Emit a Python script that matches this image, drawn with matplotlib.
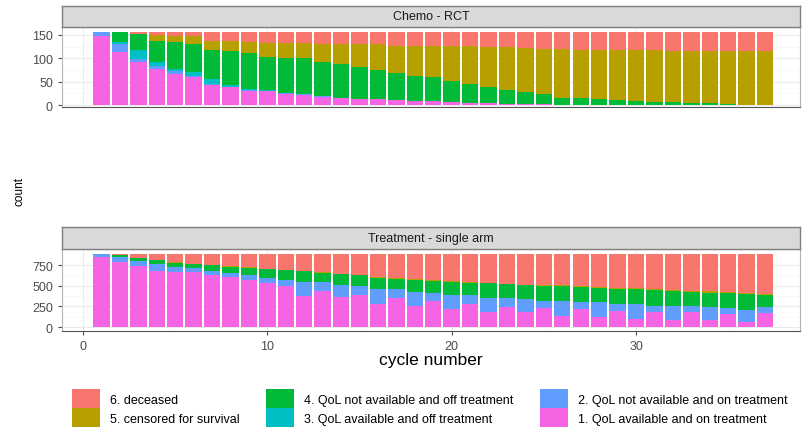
import matplotlib
matplotlib.use('Agg')
import matplotlib.pyplot as plt
import numpy as np

plt.rcParams['font.family'] = ['Liberation Sans', 'DejaVu Sans']

cycles = list(range(1, 38))

labels = ['1. QoL available and on treatment',
          '2. QoL not available and on treatment',
          '3. QoL available and off treatment',
          '4. QoL not available and off treatment',
          '5. censored for survival',
          '6. deceased']
colors = ['#F564E3', '#619CFF', '#00BFC4', '#00BA38', '#B79F00', '#F8766D']

# Chemo - RCT
rct_1 = [147, 113, 92, 78, 67, 59, 42, 38, 31, 30, 24, 22, 18, 16, 13, 13, 11, 9, 8, 6,
         5, 4, 2, 2, 2, 1, 0, 0, 0, 0, 0, 0, 0, 0, 0, 0, 0]
rct_2 = [9, 18, 6, 6, 5, 3, 2, 1, 1, 1, 1, 1, 1, 0, 0, 0, 0, 0, 0, 0,
         0, 0, 0, 0, 0, 0, 0, 0, 0, 0, 0, 0, 0, 0, 0, 0, 0]
rct_3 = [0, 3, 20, 8, 6, 8, 12, 3, 3, 1, 1, 0, 0, 0, 0, 0, 0, 0, 0, 0,
         0, 0, 0, 0, 0, 0, 0, 0, 0, 0, 0, 0, 0, 0, 0, 0, 0]
rct_4 = [0, 22, 33, 46, 57, 61, 62, 73, 76, 71, 75, 78, 73, 72, 68, 61, 57, 54, 51, 46,
         41, 34, 30, 25, 21, 15, 14, 12, 10, 9, 7, 6, 5, 4, 2, 1, 0]
rct_5 = [0, 0, 2, 11, 12, 16, 20, 23, 24, 29, 32, 31, 39, 43, 50, 56, 59, 64, 68, 75,
         81, 86, 92, 95, 97, 104, 104, 106, 108, 108, 110, 110, 111, 112, 113, 114, 115]
rct_6 = [0, 0, 3, 7, 9, 9, 18, 18, 21, 24, 23, 24, 25, 25, 25, 26, 29, 29, 29, 29,
         29, 32, 32, 34, 36, 36, 38, 38, 38, 39, 39, 40, 40, 40, 41, 41, 41]

# Treatment - single arm
single_1 = [842, 790, 741, 681, 669, 661, 629, 600, 572, 532, 492, 379, 439, 359, 387, 278,
            347, 258, 318, 218, 278, 177, 238, 177, 226, 137, 218, 117, 197, 97, 177, 89,
            177, 89, 157, 64, 170]
single_2 = [38, 62, 59, 80, 63, 47, 51, 59, 55, 55, 80, 160, 100, 148, 112, 180,
            112, 160, 92, 168, 108, 180, 108, 160, 92, 180, 88, 180, 80, 180, 80, 160,
            72, 148, 68, 144, 72]
single_3 = [0] * 37
single_4 = [0, 16, 38, 50, 48, 50, 67, 71, 91, 111, 118, 138, 118, 130, 126, 138,
            126, 150, 146, 158, 150, 170, 170, 166, 178, 178, 182, 178, 186, 178, 190, 186,
            174, 178, 182, 186, 150]
single_5 = [0, 0, 2, 2, 3, 3, 3, 4, 4, 4, 5, 5, 5, 6, 6, 7,
            7, 8, 8, 9, 9, 10, 10, 11, 11, 12, 12, 13, 13, 14, 14, 15,
            15, 16, 16, 17, 10]
single_6 = [0, 12, 40, 67, 97, 119, 130, 146, 158, 178, 185, 198, 218, 237, 249, 277,
            288, 304, 316, 327, 335, 343, 354, 366, 373, 373, 380, 392, 404, 411, 419, 430,
            442, 449, 457, 469, 478]

fig = plt.figure(figsize=(8.04, 4.31), dpi=100)

panels = [
    ('Chemo - RCT', [rct_1, rct_2, rct_3, rct_4, rct_5, rct_6],
     [0.0771, 0.7494, 0.918, 0.1856], [0.935, 0.0488], [0, 50, 100, 150], (-4.3, 167)),
    ('Treatment - single arm', [single_1, single_2, single_3, single_4, single_5, single_6],
     [0.0771, 0.2297, 0.918, 0.1903], [0.42, 0.051], [0, 250, 500, 750], (-48, 944)),
]

handles = []
for i, (title, series, rect, strip, yticks, ylim) in enumerate(panels):
    ax = fig.add_axes(rect)
    bottom = np.zeros(len(cycles))
    hs = []
    for vals, col, lab in zip(series, colors, labels):
        h = ax.bar(cycles, vals, bottom=bottom, width=0.89, color=col, label=lab, linewidth=0)
        bottom += np.array(vals)
        hs.append(h)
    if i == 0:
        handles = hs
    ax.set_xlim(-1.14, 38.9)
    ax.set_ylim(*ylim)
    ax.set_yticks(yticks)
    ax.set_xticks([0, 10, 20, 30])
    ax.set_xticks([5, 15, 25, 35], minor=True)
    ax.set_yticks([(a + b) / 2 for a, b in zip(yticks[:-1], yticks[1:])], minor=True)
    ax.grid(True, which='major', color='#ebebeb', linewidth=0.8)
    ax.grid(True, which='minor', color='#f5f5f5', linewidth=0.5)
    ax.set_axisbelow(True)
    for s in ax.spines.values():
        s.set_color('#b3b3b3')
        s.set_linewidth(0.8)
    ax.spines['bottom'].set_color('#555555')
    ax.tick_params(axis='both', which='major', labelsize=9, colors='#4d4d4d', length=3, width=0.8)
    ax.tick_params(axis='both', which='minor', length=0)
    if i == 0:
        ax.tick_params(axis='x', which='major', length=0, labelbottom=False)
    else:
        ax.set_xlabel('cycle number', fontsize=12.5, labelpad=0)

    sax = fig.add_axes([rect[0], strip[0], rect[2], strip[1]])
    sax.set_xticks([])
    sax.set_yticks([])
    sax.set_facecolor('#d9d9d9')
    for s in sax.spines.values():
        s.set_color('#7f7f7f')
        s.set_linewidth(1)
    sax.text(0.5, 0.5, title, ha='center', va='center', fontsize=9, color='#1a1a1a',
             transform=sax.transAxes)

fig.text(0.024, 0.555, 'count', rotation=90, ha='center', va='center', fontsize=8.5)

order = [5, 4, 3, 2, 1, 0]
fig.legend([handles[k] for k in order], [labels[k] for k in order], ncol=3,
           loc='lower left', bbox_to_anchor=(72 / 804, 3 / 431), frameon=False, fontsize=9,
           handlelength=2.24, handleheight=1.95, columnspacing=2.1, handletextpad=0.8,
           labelspacing=0.0, borderpad=0, borderaxespad=0)

plt.savefig('out.png', dpi=100)
